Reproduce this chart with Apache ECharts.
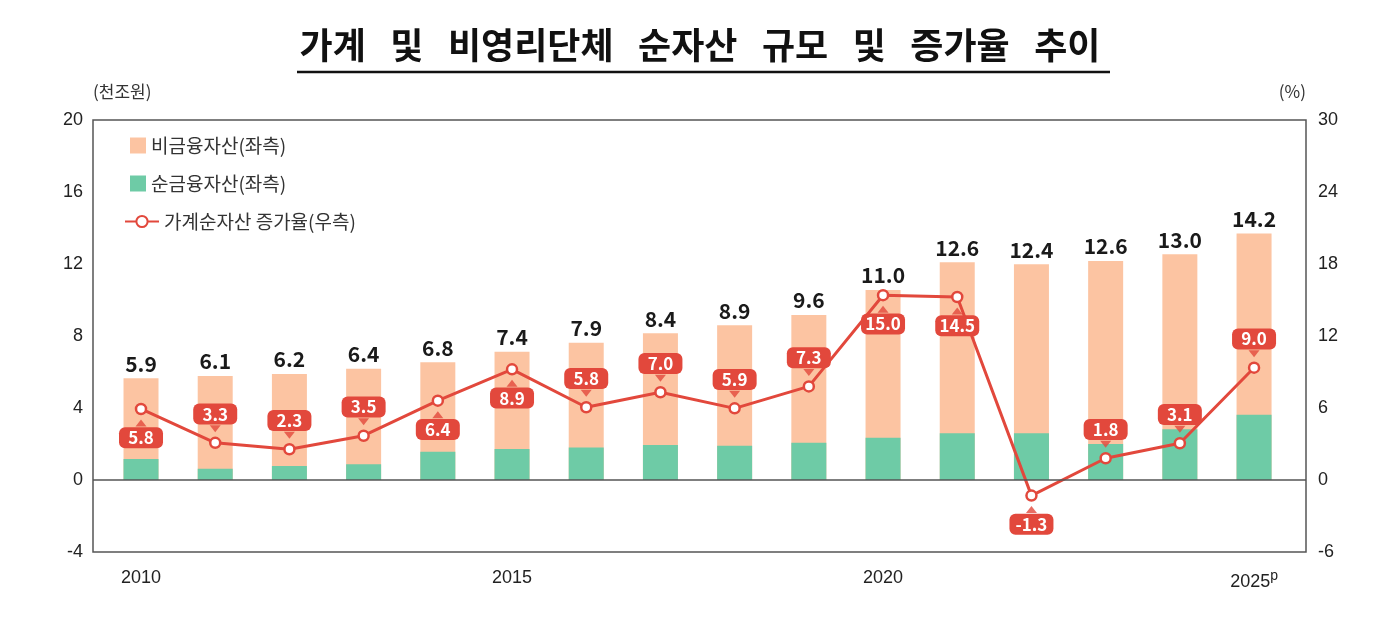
<!DOCTYPE html>
<html>
<head>
<meta charset="utf-8">
<script src="https://cdn.jsdelivr.net/npm/echarts@6.0.0/dist/echarts.min.js"></script>
<style>
    html, body { margin: 0; padding: 0; background: #fff; }
    #chart-box { width: 1400px; height: 640px; }
</style>
</head>
<body>
<div id="chart-box"></div>
<script>
// 연도
var years = [2010, 2011, 2012, 2013, 2014, 2015, 2016, 2017, 2018, 2019, 2020, 2021, 2022, 2023, 2024, 2025];
// 순금융자산 (막대 아래, 천조원)
var netFinancial = [1.17, 0.63, 0.78, 0.87, 1.57, 1.72, 1.80, 1.94, 1.90, 2.07, 2.35, 2.60, 2.60, 2.00, 2.82, 3.62];
// 비금융자산 (막대 위, 천조원)
var nonFinancial = [4.48, 5.15, 5.11, 5.31, 4.97, 5.41, 5.83, 6.21, 6.70, 7.10, 8.21, 9.50, 9.38, 10.17, 9.72, 10.08];
// 막대 위 합계 라벨
var totalLabels = ['5.9', '6.1', '6.2', '6.4', '6.8', '7.4', '7.9', '8.4', '8.9', '9.6', '11.0', '12.6', '12.4', '12.6', '13.0', '14.2'];
// 가계순자산 증가율 (우측, %)
var growthRate = [5.92, 3.10, 2.56, 3.69, 6.61, 9.22, 6.06, 7.31, 5.97, 7.80, 15.40, 15.25, -1.30, 1.81, 3.06, 9.36];
var growthLabels = ['5.8', '3.3', '2.3', '3.5', '6.4', '8.9', '5.8', '7.0', '5.9', '7.3', '15.0', '14.5', '-1.3', '1.8', '3.1', '9.0'];
// 라벨 위치: 위(up) / 아래(down)
var growthLabelSide = ['down', 'up', 'up', 'up', 'down', 'down', 'up', 'up', 'up', 'up', 'down', 'down', 'down', 'up', 'up', 'up'];
// x축 눈금
var xTicks = [2010, 2015, 2020, 2025];

var RED = '#e2483c';
var KR = 'Noto Sans CJK KR';

householdChart();

function householdChart() {
    var chartDom = document.getElementById('chart-box');
    var myChart = echarts.init(chartDom);
    var option;

    // value 축에서는 stack 이 안 먹어서 합계 막대 위에 순금융자산을 겹쳐 그림
    var totalData = years.map(function (y, i) {
        return [y, netFinancial[i] + nonFinancial[i]];
    });
    var netData = years.map(function (y, i) {
        return [y, netFinancial[i]];
    });

    var lineData = growthRate.map(function (v, i) {
        return {
            value: [years[i], v],
            label: {
                position: growthLabelSide[i] === 'up' ? 'top' : 'bottom',
                formatter: growthLabels[i]
            }
        };
    });
    // 말풍선 꼬리
    var pointerData = growthRate.map(function (v, i) {
        var up = growthLabelSide[i] === 'up';
        return {
            value: [years[i], v],
            symbolRotate: up ? 180 : 0,
            symbolOffset: [0, up ? -14 : 14]
        };
    });

    option = {
        animation: false,
        textStyle: { fontFamily: KR },
        title: {
            text: '가계   및   비영리단체   순자산   규모   및   증가율   추이',
            left: 'center',
            top: 22,
            textStyle: { fontFamily: KR, fontSize: 36, fontWeight: 'bold', color: '#111' }
        },
        graphic: [
            {
                type: 'line',
                shape: { x1: 297, y1: 72, x2: 1110, y2: 72 },
                style: { stroke: '#111', lineWidth: 2.5 }
            }
        ],
        legend: [
            {
                orient: 'vertical',
                left: 125,
                top: 131,
                icon: 'rect',
                itemWidth: 16,
                itemHeight: 16,
                itemGap: 19,
                data: ['비금융자산(좌측)', '순금융자산(좌측)'],
                textStyle: { fontFamily: KR, fontSize: 19, color: '#333' }
            },
            {
                left: 119,
                top: 207,
                itemWidth: 34,
                itemHeight: 14,
                data: ['가계순자산 증가율(우측)'],
                textStyle: { fontFamily: KR, fontSize: 19, color: '#333' }
            }
        ],
        grid: {
            left: 93,
            right: 94,
            top: 120,
            bottom: 88,
            show: true,
            borderColor: '#555',
            borderWidth: 1.5,
            backgroundColor: 'transparent'
        },
        xAxis: {
            type: 'value',
            min: 2009.353,
            max: 2025.70,
            axisLine: { show: false },
            axisTick: { show: false },
            splitLine: { show: false },
            axisLabel: {
                customValues: xTicks,
                margin: 17,
                fontSize: 18,
                color: '#222',
                fontFamily: 'Liberation Sans',
                formatter: function (v) {
                    return v === 2025 ? '2025{sup|p}' : String(v);
                },
                rich: {
                    sup: { fontSize: 14, fontFamily: 'Liberation Sans', color: '#222', padding: [0, 0, 12, 0] }
                }
            }
        },
        yAxis: [
            {
                type: 'value',
                min: -4,
                max: 20,
                interval: 4,
                name: '(천조원)',
                nameLocation: 'end',
                nameGap: 20,
                nameTextStyle: { fontFamily: KR, fontSize: 17, color: '#333', align: 'left' },
                axisLine: { show: false },
                axisTick: { show: false },
                splitLine: { show: false },
                axisLabel: { fontSize: 18, color: '#222', margin: 10, fontFamily: 'Liberation Sans' }
            },
            {
                type: 'value',
                min: -6,
                max: 30,
                interval: 6,
                name: '(%)',
                nameLocation: 'end',
                nameGap: 20,
                nameTextStyle: { fontFamily: KR, fontSize: 17, color: '#333', align: 'right' },
                axisLine: { show: false },
                axisTick: { show: false },
                splitLine: { show: false },
                axisLabel: { fontSize: 18, color: '#222', margin: 12, fontFamily: 'Liberation Sans' }
            }
        ],
        series: [
            {
                name: '비금융자산(좌측)',
                type: 'bar',
                barWidth: 35,
                itemStyle: { color: '#fcc4a2' },
                data: totalData,
                label: {
                    show: true,
                    position: 'top',
                    distance: 4,
                    fontFamily: KR,
                    fontSize: 21,
                    fontWeight: 'bold',
                    color: '#1a1a1a',
                    formatter: function (p) { return totalLabels[p.dataIndex]; }
                },
                markLine: {
                    silent: true,
                    symbol: 'none',
                    label: { show: false },
                    lineStyle: { color: '#555', width: 1.5, type: 'solid' },
                    data: [{ yAxis: 0 }]
                }
            },
            {
                name: '순금융자산(좌측)',
                type: 'bar',
                barWidth: 35,
                barGap: '-100%',
                itemStyle: { color: '#6ecba6' },
                data: netData
            },
            {
                name: '가계순자산 증가율(우측)',
                type: 'line',
                yAxisIndex: 1,
                z: 4,
                symbol: 'circle',
                symbolSize: 10,
                itemStyle: { color: '#fff', borderColor: RED, borderWidth: 2.5 },
                lineStyle: { color: RED, width: 3 },
                data: lineData,
                label: {
                    show: true,
                    distance: 12,
                    fontFamily: KR,
                    fontSize: 17,
                    fontWeight: 'bold',
                    color: '#fff',
                    backgroundColor: RED,
                    borderRadius: 6,
                    padding: [2, 5],
                    width: 34,
                    align: 'center'
                }
            },
            {
                name: 'pointer',
                type: 'scatter',
                yAxisIndex: 1,
                z: 5,
                silent: true,
                symbol: 'triangle',
                symbolSize: [11, 7],
                itemStyle: { color: RED },
                data: pointerData
            }
        ]
    };

    option && myChart.setOption(option);
}
</script>
</body>
</html>
